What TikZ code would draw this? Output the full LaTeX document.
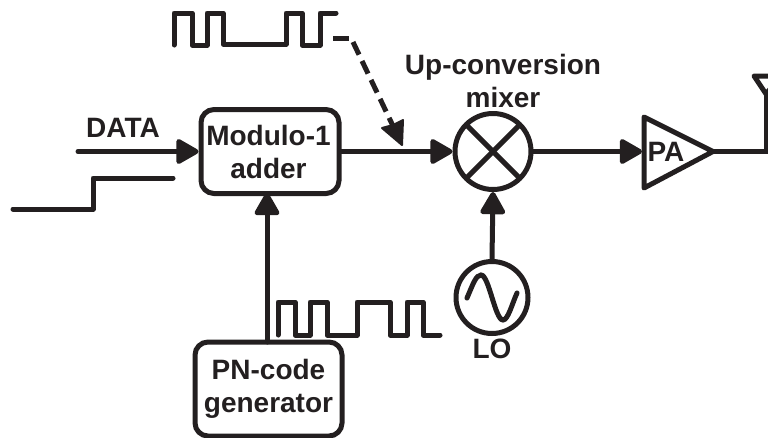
\documentclass[tikz,border=0pt]{standalone}
\usepackage{fontspec}
\setmainfont{Liberation Sans}
\usetikzlibrary{arrows.meta}
\definecolor{ink}{HTML}{231F20}
\tikzset{
  wire/.style={line width=5pt,draw=ink,line cap=round,line join=miter},
  arr/.style={wire,-{Triangle[length=25pt,width=27pt,round]}},
  box/.style={draw=ink,line width=5pt,rounded corners=13pt,align=center,inner sep=0pt,font=\labelfont},
  ring/.style={draw=ink,line width=5pt,circle,inner sep=0pt},
  lab/.style={align=center,inner sep=0pt,text=ink,font=\labelfont},
}
\newcommand{\labelfont}{\bfseries\fontsize{28}{33}\selectfont}
\begin{document}
\begin{tikzpicture}[x=1pt,y=-1pt]
\useasboundingbox (0,0) rectangle (768,437);
\node[box,minimum width=138pt,minimum height=84pt,text=ink] (adder) at (270,151.5) {Modulo-1\kern3pt\\adder\kern3pt};
\node[box,minimum width=147pt,minimum height=94pt,text=ink] (pn) at (268.5,389) {PN-code\\generator};
\node[ring,minimum size=76pt] (mix) at (493,151.5) {};
\node[ring,minimum size=72pt] (lo) at (492,297.5) {};
\draw[wire,line cap=butt,shorten >=1pt,shorten <=1pt] (mix.45) -- (mix.225);
\draw[wire,line cap=butt,shorten >=1pt,shorten <=1pt] (mix.135) -- (mix.315);
\draw[wire] (467,298) .. controls (473,284) and (476,275) .. (481,275) .. controls (489,275) and (495,320) .. (503,320) .. controls (508,320) and (512,304) .. (517,293);
\coordinate (paT) at (644,117);
\coordinate (paB) at (644,188);
\coordinate (paR) at (713,151.5);
\coordinate (paIn) at (642,151.5);
\draw[wire,line join=round] (paT) -- (paR) -- (paB) -- cycle;
\node[lab] (palab) at (666,152) {PA};
\coordinate (dataIn) at (78,151.5);
\coordinate (adderIn) at (adder.west |- dataIn);
\draw[arr] (dataIn) -- (adderIn);
\draw[arr] (adder.east) -- (mix.west);
\draw[arr] (mix.east) -- (paIn);
\draw[arr] (lo.north) -- (mix.south);
\draw[arr] (267,342) -- (267,193);
\node[lab] (data) at (123,128) {DATA};
\node[lab] (up) at (503,80.5) {Up-conversion\\mixer};
\node[lab] (lolab) at (492,349) {LO};
% antenna
\coordinate (antBase) at (766,151.5);
\coordinate (antTop) at (766,92);
\draw[wire,line cap=butt,line join=miter] (paR) -- (antBase) -- (antTop);
\draw[wire,line join=round] (781,76) -- (754,76) -- (766,94) -- cycle;
% waveforms
\draw[wire,line join=round] (13,209) -- (93,209) -- (93,178) -- (173,178);
\draw[wire,line join=round] (174,45) -- (174,13) -- (192,13) -- (192,45) -- (207,45) -- (207,13) -- (223,13) -- (223,44) -- (286,44) -- (286,13) -- (302,13) -- (302,45) -- (320,45) -- (320,13) -- (336,13);
\draw[wire,line join=round] (278,335) -- (278,302) -- (295,302) -- (295,335) -- (310,335) -- (310,302) -- (327,302) -- (327,335) -- (357,335) -- (357,302) -- (390,302) -- (390,335) -- (407,335) -- (407,302) -- (423,302) -- (423,335) -- (440,335);
% dashed
\coordinate (dashA) at (333,38);
\coordinate (dashB) at (349,38);
\coordinate (dashC) at (353,42);
\coordinate (dashD) at (393,126);
\draw[wire,line cap=butt] (dashA) -- (dashB);
\draw[wire,line cap=butt,dash pattern=on 14pt off 7pt] (dashC) -- (dashD);
\fill[ink,draw=ink,line width=2pt,line join=round] (402,145) -- (382,128) -- (393,125) -- (403,120) -- cycle;
\end{tikzpicture}
\end{document}
